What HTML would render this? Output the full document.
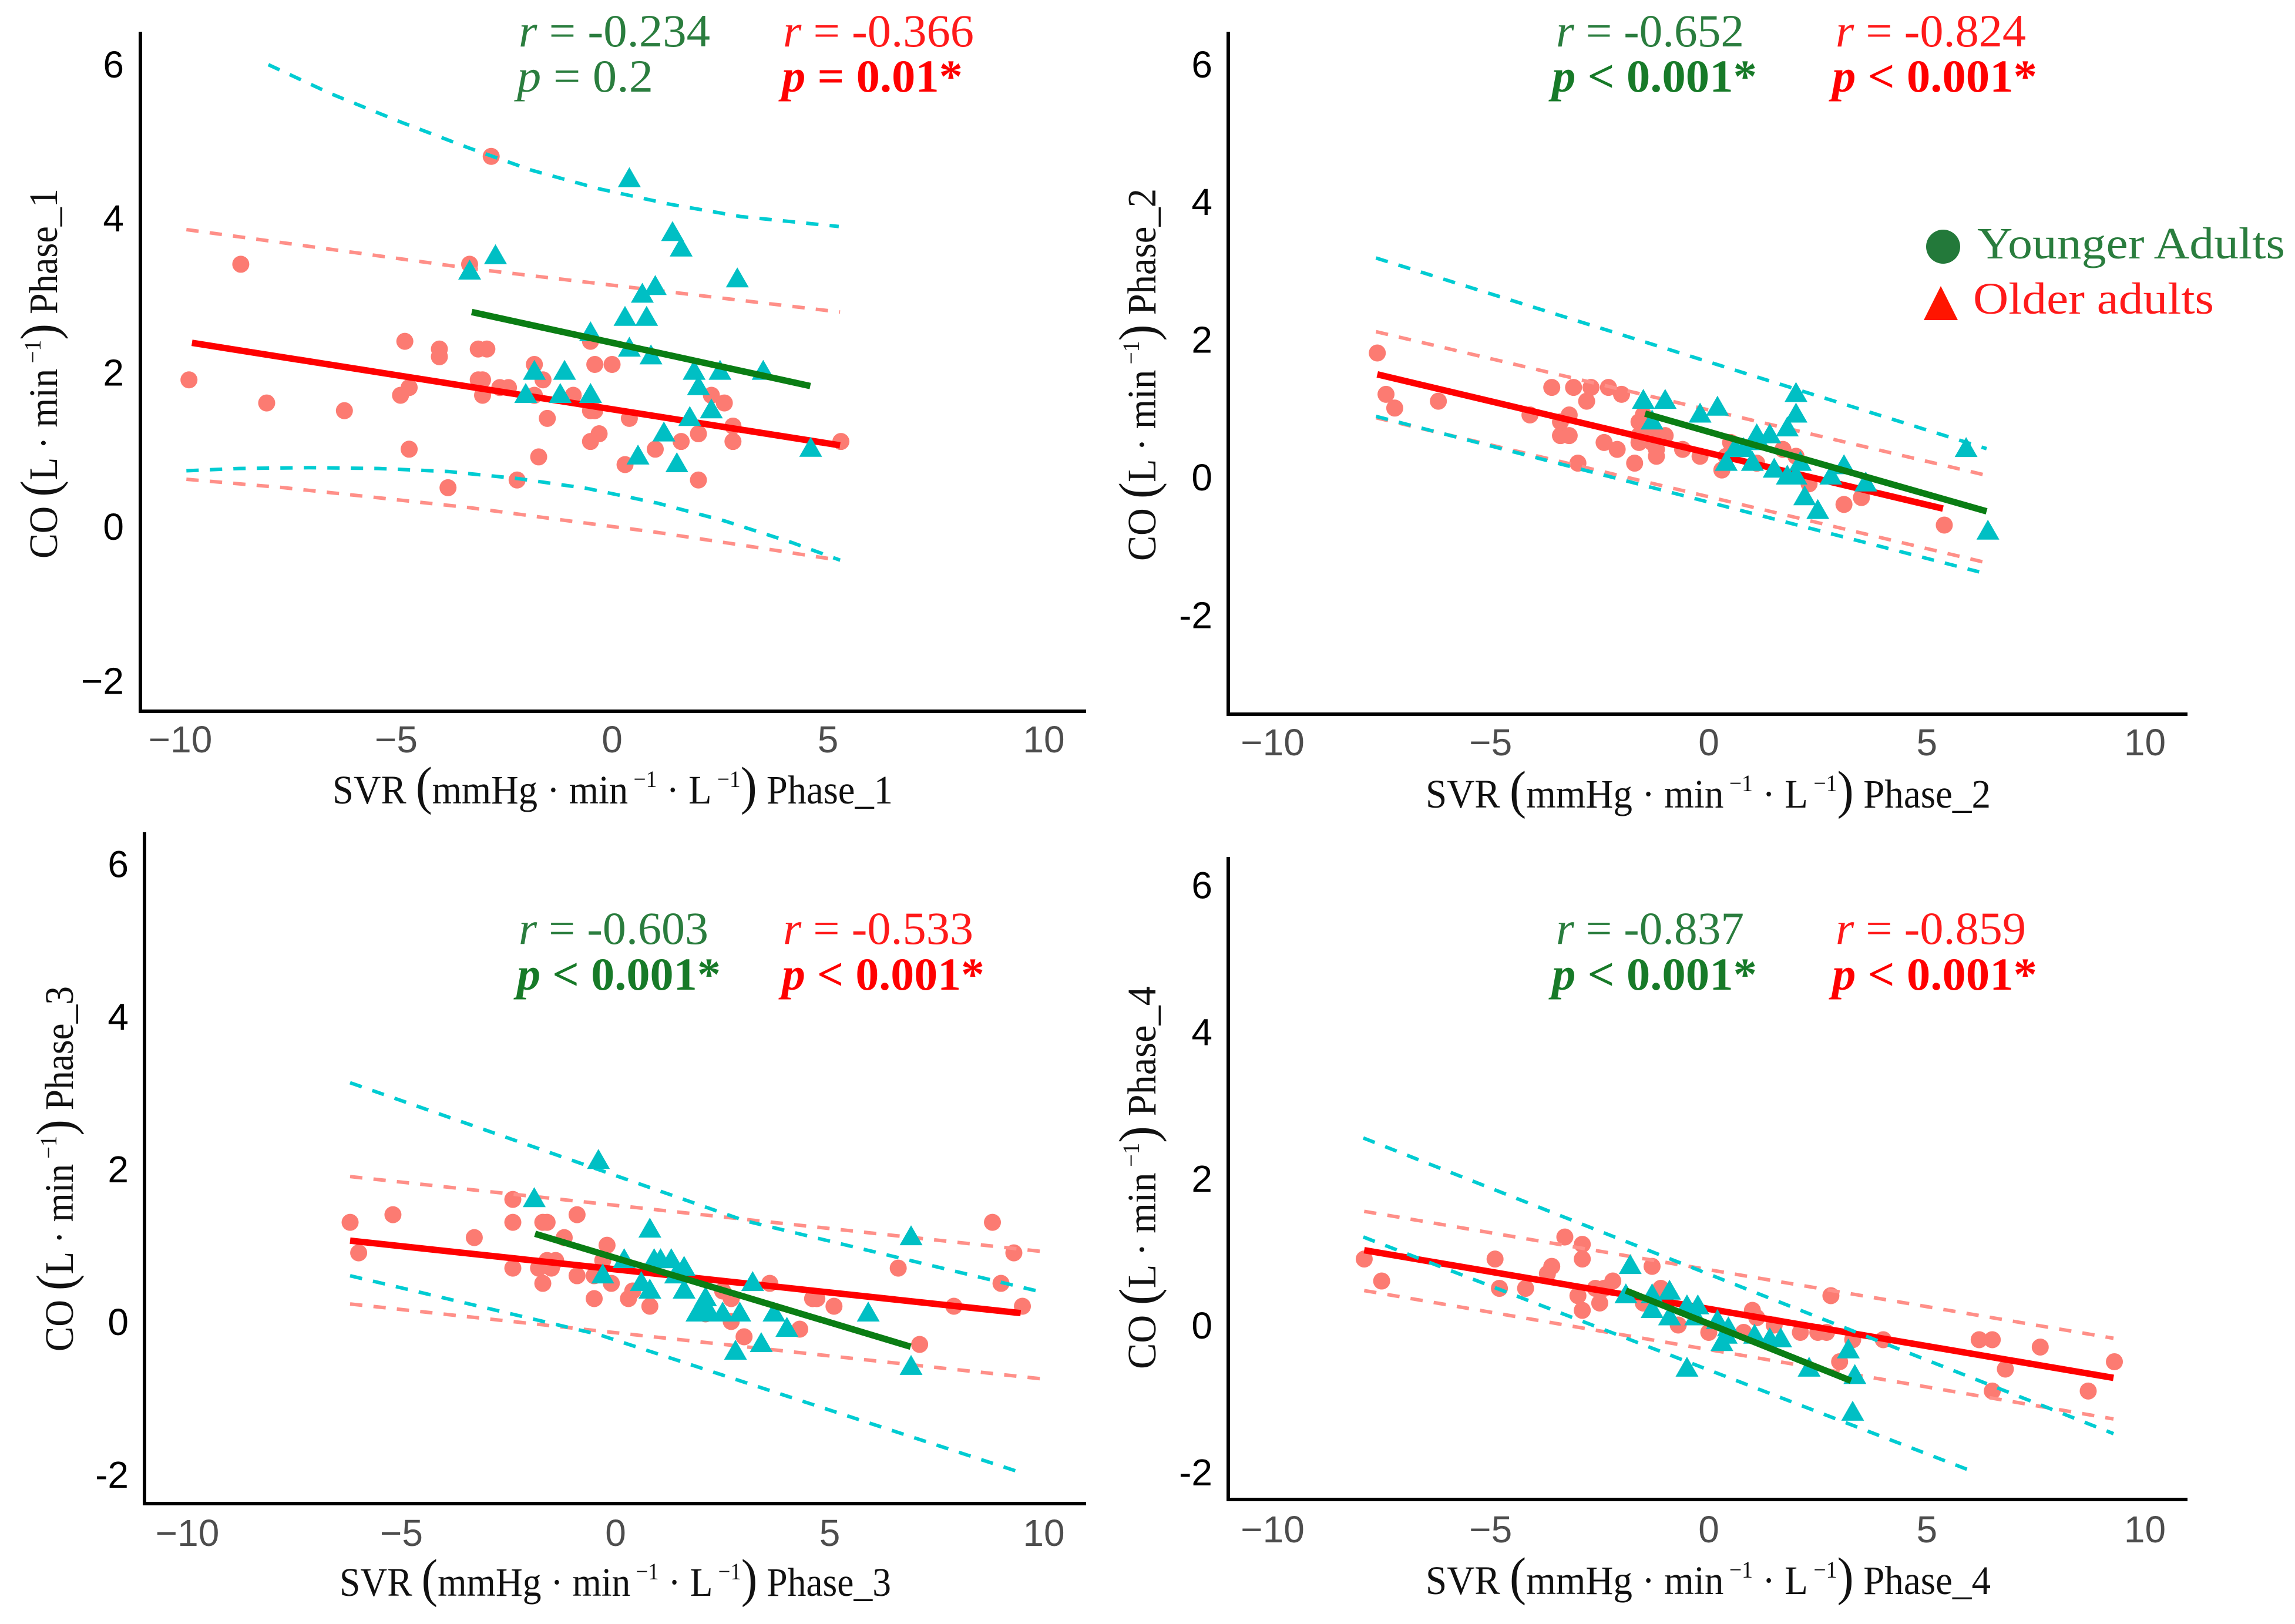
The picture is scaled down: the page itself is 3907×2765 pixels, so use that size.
<!DOCTYPE html>
<html lang="en">
<head>
<meta charset="utf-8">
<title>CO vs SVR by phase</title>
<style>
html,body{margin:0;padding:0;background:#fff}
svg{display:block}
.tick{font-family:"Liberation Sans",sans-serif;font-size:64px}
.title{font-family:"Liberation Serif",serif;font-size:69px;fill:#111}
.ann{font-family:"Liberation Serif",serif;font-size:78px}
.it{font-style:italic}
.g{fill:#2a7d3e}.gb{fill:#177a28;font-weight:bold}
.r{fill:#ff1a1a}.rb{fill:#ff0000;font-weight:bold}
.leg{font-family:"Liberation Serif",serif;font-size:76px}
</style>
</head>
<body>
<svg id="chart" xmlns="http://www.w3.org/2000/svg" width="3907" height="2765" viewBox="0 0 3907 2765">
<rect width="3907" height="2765" fill="#fff"/>
<g id="marks"></g>

<!-- Panel 1 text -->
<text class="title" x="566" y="1368" textLength="954" lengthAdjust="spacingAndGlyphs">SVR <tspan font-size="90">(</tspan>mmHg · min<tspan font-size="40" dy="-28"> −1</tspan><tspan dy="28"> · L</tspan><tspan font-size="40" dy="-28"> −1</tspan><tspan dy="28" font-size="90">)</tspan> Phase_1</text>
<text class="title" transform="translate(97 951) rotate(-90)" textLength="630" lengthAdjust="spacingAndGlyphs">CO <tspan font-size="90">(</tspan>L · min<tspan font-size="40" dy="-28"> −1</tspan><tspan dy="28" font-size="90">)</tspan> Phase_1</text>
<text class="ann g" x="883" y="79" textLength="326" lengthAdjust="spacingAndGlyphs"><tspan class="it">r</tspan> = -0.234</text>
<text class="ann g" x="880" y="156" textLength="232" lengthAdjust="spacingAndGlyphs"><tspan class="it">p</tspan> = 0.2</text>
<text class="ann r" x="1333" y="79" textLength="325" lengthAdjust="spacingAndGlyphs"><tspan class="it">r</tspan> = -0.366</text>
<text class="ann rb" x="1331" y="156" textLength="308" lengthAdjust="spacingAndGlyphs"><tspan class="it">p</tspan> = 0.01*</text>

<!-- Panel 2 text -->
<text class="title" x="2427" y="1375" textLength="962" lengthAdjust="spacingAndGlyphs">SVR <tspan font-size="90">(</tspan>mmHg · min<tspan font-size="40" dy="-28"> −1</tspan><tspan dy="28"> · L</tspan><tspan font-size="40" dy="-28"> −1</tspan><tspan dy="28" font-size="90">)</tspan> Phase_2</text>
<text class="title" transform="translate(1967 955) rotate(-90)" textLength="634" lengthAdjust="spacingAndGlyphs">CO <tspan font-size="90">(</tspan>L · min<tspan font-size="40" dy="-28"> −1</tspan><tspan dy="28" font-size="90">)</tspan> Phase_2</text>
<text class="ann g" x="2649" y="79" textLength="320" lengthAdjust="spacingAndGlyphs"><tspan class="it">r</tspan> = -0.652</text>
<text class="ann gb" x="2642" y="156" textLength="349" lengthAdjust="spacingAndGlyphs"><tspan class="it">p</tspan> &lt; 0.001*</text>
<text class="ann r" x="3125" y="79" textLength="324" lengthAdjust="spacingAndGlyphs"><tspan class="it">r</tspan> = -0.824</text>
<text class="ann rb" x="3119" y="156" textLength="349" lengthAdjust="spacingAndGlyphs"><tspan class="it">p</tspan> &lt; 0.001*</text>

<!-- Legend -->
<g>
<circle cx="3308" cy="420" r="29" fill="#23793a"/>
<text class="leg" x="3366" y="440" fill="#2a7d3e" textLength="524" lengthAdjust="spacingAndGlyphs">Younger Adults</text>
<polygon points="3304,487 3333,545 3275,545" fill="#ff1500"/>
<text class="leg" x="3359" y="534" fill="#ff1a1a" textLength="410" lengthAdjust="spacingAndGlyphs">Older adults</text>
</g>

<!-- Panel 3 text -->
<text class="title" x="578" y="2717" textLength="939" lengthAdjust="spacingAndGlyphs">SVR <tspan font-size="90">(</tspan>mmHg · min<tspan font-size="40" dy="-28"> −1</tspan><tspan dy="28"> · L</tspan><tspan font-size="40" dy="-28"> −1</tspan><tspan dy="28" font-size="90">)</tspan> Phase_3</text>
<text class="title" transform="translate(124 2301) rotate(-90)" textLength="622" lengthAdjust="spacingAndGlyphs">CO <tspan font-size="90">(</tspan>L · min<tspan font-size="40" dy="-28"> −1</tspan><tspan dy="28" font-size="90">)</tspan> Phase_3</text>
<text class="ann g" x="883" y="1607" textLength="323" lengthAdjust="spacingAndGlyphs"><tspan class="it">r</tspan> = -0.603</text>
<text class="ann gb" x="880" y="1685" textLength="347" lengthAdjust="spacingAndGlyphs"><tspan class="it">p</tspan> &lt; 0.001*</text>
<text class="ann r" x="1333" y="1607" textLength="324" lengthAdjust="spacingAndGlyphs"><tspan class="it">r</tspan> = -0.533</text>
<text class="ann rb" x="1331" y="1685" textLength="345" lengthAdjust="spacingAndGlyphs"><tspan class="it">p</tspan> &lt; 0.001*</text>

<!-- Panel 4 text -->
<text class="title" x="2427" y="2714" textLength="962" lengthAdjust="spacingAndGlyphs">SVR <tspan font-size="90">(</tspan>mmHg · min<tspan font-size="40" dy="-28"> −1</tspan><tspan dy="28"> · L</tspan><tspan font-size="40" dy="-28"> −1</tspan><tspan dy="28" font-size="90">)</tspan> Phase_4</text>
<text class="title" transform="translate(1967 2331) rotate(-90)" textLength="652" lengthAdjust="spacingAndGlyphs">CO <tspan font-size="90">(</tspan>L · min<tspan font-size="40" dy="-28"> −1</tspan><tspan dy="28" font-size="90">)</tspan> Phase_4</text>
<text class="ann g" x="2649" y="1607" textLength="320" lengthAdjust="spacingAndGlyphs"><tspan class="it">r</tspan> = -0.837</text>
<text class="ann gb" x="2642" y="1685" textLength="349" lengthAdjust="spacingAndGlyphs"><tspan class="it">p</tspan> &lt; 0.001*</text>
<text class="ann r" x="3125" y="1607" textLength="324" lengthAdjust="spacingAndGlyphs"><tspan class="it">r</tspan> = -0.859</text>
<text class="ann rb" x="3119" y="1685" textLength="349" lengthAdjust="spacingAndGlyphs"><tspan class="it">p</tspan> &lt; 0.001*</text>
</svg>

<script>
// Tick labels
const xTicks = [-10, -5, 0, 5, 10];
const xTickLabels = ['−10', '−5', '0', '5', '10'];
const yTicks = [6, 4, 2, 0, -2];
const yTickLabelsMinus = ['6', '4', '2', '0', '−2'];
const yTickLabelsHyphen = ['6', '4', '2', '0', '-2'];

// Phase 1 data
const p1Circles = [[-9.8,1.9],[-8.6,3.4],[-8,1.6],[-6.2,1.5],[-4.8,2.4],[-4.9,1.7],[-4.7,1.8],[-4.7,1],[-4,2.3],[-4,2.2],[-3.8,.5],[-3.3,3.4],[-3.1,2.3],[-2.9,2.3],[-2.8,4.8],[-3.1,1.9],[-3,1.9],[-3,1.7],[-2.6,1.8],[-2.4,1.8],[-2.2,.6],[-1.8,2.1],[-1.8,1.7],[-1.7,.9],[-1.6,1.9],[-1.5,1.4],[-.9,1.7],[-.5,2.4],[-.4,2.1],[0,2.1],[-.5,1.5],[-.4,1.5],[-.3,1.2],[-.5,1.1],[.3,.8],[.4,1.4],[1,1],[1.6,1.1],[2,1.2],[2,.6],[2.3,1.7],[2.6,1.6],[2.8,1.3],[2.8,1.1],[5.3,1.1]];
const p1Triangles = [[-3.3,3.3],[-2.7,3.5],[.4,4.5],[1.4,3.8],[1.6,3.6],[2.9,3.2],[1,3.1],[.7,3],[.3,2.7],[.8,2.7],[-.5,2.5],[.4,2.3],[.9,2.2],[1.9,2],[2.5,2],[3.5,2],[-1.8,2],[-1.1,2],[-2,1.7],[-1.2,1.7],[-.5,1.7],[2,1.8],[1.8,1.4],[2.3,1.5],[1.2,1.2],[.6,.9],[1.5,.8],[4.6,1]];
const p1RedLine = [[-9.73,2.38],[5.28,1.05]];
const p1GreenLine = [[-3.25,2.78],[4.59,1.82]];
const p1CyanUpper = [[-7.96,5.99],[-6.5,5.61],[-4.87,5.24],[-3.32,4.91],[-1.86,4.62],[-.31,4.38],[1.33,4.18],[2.97,4.02],[5.25,3.89]];
const p1CyanLower = [[-9.86,.72],[-8.64,.75],[-7.02,.76],[-5.41,.75],[-3.8,.71],[-2.19,.62],[-.57,.49],[1.05,.3],[2.6,.07],[4.16,-.21],[5.28,-.44]];
const p1SalmonUpper = [[-9.86,3.85],[-3.2,3.34],[5.28,2.78]];
const p1SalmonLower = [[-9.86,.61],[-7.59,.5],[-5.41,.37],[-3.28,.24],[-1.14,.08],[1.05,-.08],[3.18,-.26],[4.79,-.4],[5.28,-.44]];

// Phase 2 data
const p2Circles = [[-7.6,1.8],[-7.4,1.2],[-7.2,1],[-6.2,1.1],[-4.1,.9],[-3.6,1.3],[-3.1,1.3],[-2.7,1.3],[-2.3,1.3],[-2,1.2],[-2.8,1.1],[-3.2,.9],[-3.4,.8],[-3.4,.6],[-3.2,.6],[-3,.2],[-2.4,.5],[-2.1,.4],[-1.7,.2],[-1.6,.8],[-1.6,.6],[-1.6,.5],[-1.5,.9],[-1.3,.7],[-1.3,.5],[-1.2,.4],[-1.2,.3],[-1,.6],[-.6,.4],[-.2,.3],[.3,.1],[.4,.3],[.5,.5],[1.1,.2],[1.7,.4],[2,.3],[2.3,-.1],[3.1,-.4],[3.5,-.3],[5.4,-.7]];
const p2Triangles = [[-1.5,1.1],[-1,1.1],[-.2,.9],[.2,1],[2,1.2],[2,.9],[1.8,.7],[-1.3,.8],[1.1,.6],[1.4,.6],[1.15,.5],[.6,.4],[.8,.4],[.4,.2],[1,.2],[1.5,.1],[1.8,0],[2,0],[2.1,.2],[3.1,.15],[2.8,0],[3.6,-.1],[2.2,-.3],[2.5,-.5],[5.9,.4],[6.4,-.8]];
const p2RedLine = [[-7.6,1.49],[5.37,-.46]];
const p2GreenLine = [[-1.46,.92],[6.37,-.5]];
const p2CyanUpper = [[-7.63,3.18],[6.37,.41]];
const p2CyanLower = [[-7.63,.88],[6.2,-1.38]];
const p2SalmonUpper = [[-7.63,2.11],[6.32,.03]];
const p2SalmonLower = [[-7.63,.86],[6.32,-1.24]];

// Phase 3 data
const p3Circles = [[-6.2,1.3],[-6,.9],[-5.2,1.4],[-3.3,1.1],[-2.4,1.6],[-2.4,1.3],[-2.4,.7],[-1.7,1.3],[-1.6,1.3],[-1.2,1.1],[-.9,1.4],[-1.8,.7],[-1.6,.8],[-1.4,.8],[-1.5,.7],[-1.7,.5],[-.9,.6],[-.5,.6],[-.3,.8],[-.2,1],[-.1,.5],[-.5,.3],[.3,.3],[.4,.4],[.8,.2],[2.5,.4],[2.7,.3],[2.7,0],[3,-.2],[2.1,.1],[3.6,.5],[4.6,.3],[4.7,.3],[4.3,-.1],[5.1,.2],[6.6,.7],[7.1,-.3],[7.9,.2],[8.8,1.3],[9.3,.9],[9,.5],[9.5,.2]];
const p3Triangles = [[-.4,2.1],[-1.9,1.6],[.8,1.2],[6.9,1.1],[6.9,-.6],[.2,.8],[.9,.8],[1.05,.8],[1.3,.8],[1.6,.7],[-.3,.6],[.6,.5],[.8,.4],[1.4,.6],[1.6,.4],[2.1,.3],[2.1,.2],[1.9,.1],[2.2,.1],[2.5,.1],[2.9,.1],[3.2,.5],[3.7,.1],[4,-.1],[3.4,-.3],[2.8,-.4],[5.9,.1]];
const p3RedLine = [[-6.2,1.06],[9.46,.11]];
const p3GreenLine = [[-1.88,1.15],[6.89,-.33]];
const p3CyanUpper = [[-6.2,3.13],[3.02,1.32],[9.92,.39]];
const p3CyanLower = [[-6.2,.6],[-.4,-.17],[9.41,-1.97]];
const p3SalmonUpper = [[-6.2,1.9],[9.92,.92]];
const p3SalmonLower = [[-6.2,.23],[9.92,-.75]];

// Phase 4 data
const p4Circles = [[-7.9,.9],[-7.5,.6],[-4.9,.9],[-4.8,.5],[-4.2,.5],[-3.7,.7],[-3.6,.8],[-3.3,1.2],[-2.9,1.1],[-2.9,.9],[-3,.4],[-2.9,.2],[-2.6,.5],[-2.5,.3],[-2.4,.5],[-2.2,.6],[-1.3,.8],[-1.1,.5],[-1.5,.3],[-.7,0],[0,-.1],[1,.2],[1.1,.1],[.8,-.1],[1.5,0],[2.1,-.1],[2.5,-.1],[2.7,-.1],[2.8,.4],[3,-.5],[3.3,-.2],[4,-.2],[6.2,-.2],[6.5,-.2],[6.8,-.6],[6.5,-.9],[7.6,-.3],[8.7,-.9],[9.3,-.5]];
const p4Triangles = [[-1.8,.8],[-1.9,.4],[-.9,.45],[-1.3,.4],[-1.3,.2],[-.9,.1],[-.5,.25],[-.25,.25],[-.3,.1],[-.5,-.6],[.2,.05],[.45,-.05],[.3,-.25],[.4,-.15],[1.05,-.15],[1.4,-.2],[1.65,-.2],[2.3,-.6],[3.2,-.35],[3.35,-.7],[3.3,-1.2]];
const p4RedLine = [[-7.9,1.02],[9.28,-.72]];
const p4GreenLine = [[-1.9,.47],[3.26,-.76]];
const p4CyanUpper = [[-7.92,2.55],[9.28,-1.48]];
const p4CyanLower = [[-7.92,1.2],[5.98,-1.98]];
const p4SalmonUpper = [[-7.9,1.55],[9.28,-.18]];
const p4SalmonLower = [[-7.9,.47],[9.28,-1.28]];

const SALMON = '#fc7b72', SALMON_DASH = '#ff8f88', CYAN = '#00bfc4', CYAN_DASH = '#00ccd2', RED = '#ff0000', GREEN = '#0a7d14';
const NS = 'http://www.w3.org/2000/svg';
const root = document.getElementById('marks');

function make(tag, name, attrs, parent) {
  const el = document.createElementNS(NS, tag);
  
  
  for (const k in attrs) el.setAttribute(k, attrs[k]);
  parent.appendChild(el);
  return el;
}

function drawPanel(n, frame, yLabels, circles, triangles, redLine, greenLine, cyanUp, cyanLo, salUp, salLo) {
  const sx = v => frame.x0 + v * frame.xu;
  const sy = v => frame.y0 - v * frame.yu;
  const g = make('g', 'panel-phase-' + n, {}, root);
  const pts = arr => arr.map(p => sx(p[0]).toFixed(1) + ',' + sy(p[1]).toFixed(1)).join(' ');

  // axes
  make('line', 'y-axis-line', {x1: frame.left, x2: frame.left, y1: frame.top, y2: frame.bottom + 3, stroke: '#000', 'stroke-width': 6}, g);
  make('line', 'x-axis-line', {x1: frame.left, x2: frame.right, y1: frame.bottom, y2: frame.bottom, stroke: '#000', 'stroke-width': 6}, g);

  // tick labels
  xTicks.forEach((t, i) => {
    const el = make('text', 'x-tick-label', {class: 'tick', x: sx(t), y: frame.xLabelY, 'text-anchor': 'middle', fill: '#4d4d4d'}, g);
    el.textContent = xTickLabels[i];
  });
  yTicks.forEach((t, i) => {
    const el = make('text', 'y-tick-label', {class: 'tick', x: frame.yLabelX, y: sy(t) + 23, 'text-anchor': 'end', fill: '#000'}, g);
    el.textContent = yLabels[i];
  });

  // circles
  circles.forEach(p => {
    make('circle', 'younger-point', {cx: sx(p[0]), cy: sy(p[1]), r: 14.5, fill: SALMON}, g);
  });

  // red regression
  make('polyline', 'older-fit-line', {points: pts(redLine), fill: 'none', stroke: RED, 'stroke-width': 11}, g);

  // confidence bands
  const dash = {fill: 'none', 'stroke-width': 6, 'stroke-dasharray': '21 19'};
  make('polyline', 'salmon-band-upper', Object.assign({points: pts(salUp), stroke: SALMON_DASH}, dash), g);
  make('polyline', 'salmon-band-lower', Object.assign({points: pts(salLo), stroke: SALMON_DASH}, dash), g);
  make('polyline', 'cyan-band-upper', Object.assign({points: pts(cyanUp), stroke: CYAN_DASH}, dash), g);
  make('polyline', 'cyan-band-lower', Object.assign({points: pts(cyanLo), stroke: CYAN_DASH}, dash), g);

  // triangles
  triangles.forEach(p => {
    const x = sx(p[0]), y = sy(p[1]);
    const d = (x).toFixed(1) + ',' + (y - 21).toFixed(1) + ' ' + (x + 19.5).toFixed(1) + ',' + (y + 13).toFixed(1) + ' ' + (x - 19.5).toFixed(1) + ',' + (y + 13).toFixed(1);
    make('polygon', 'older-point', {points: d, fill: CYAN}, g);
  });

  // green regression
  make('polyline', 'younger-fit-line', {points: pts(greenLine), fill: 'none', stroke: GREEN, 'stroke-width': 11}, g);
}

drawPanel(1, {left: 239, right: 1849, top: 54, bottom: 1211, x0: 1042, xu: 73.5, y0: 896, yu: 131.2, xLabelY: 1281, yLabelX: 211},
  yTickLabelsMinus, p1Circles, p1Triangles, p1RedLine, p1GreenLine, p1CyanUpper, p1CyanLower, p1SalmonUpper, p1SalmonLower);
drawPanel(2, {left: 2091, right: 3724, top: 54, bottom: 1216, x0: 2909, xu: 74.25, y0: 812, yu: 117.2, xLabelY: 1286, yLabelX: 2064},
  yTickLabelsHyphen, p2Circles, p2Triangles, p2RedLine, p2GreenLine, p2CyanUpper, p2CyanLower, p2SalmonUpper, p2SalmonLower);
drawPanel(3, {left: 246, right: 1849, top: 1417, bottom: 2560, x0: 1048, xu: 72.9, y0: 2250, yu: 129.9, xLabelY: 2632, yLabelX: 219},
  yTickLabelsHyphen, p3Circles, p3Triangles, p3RedLine, p3GreenLine, p3CyanUpper, p3CyanLower, p3SalmonUpper, p3SalmonLower);
drawPanel(4, {left: 2091, right: 3724, top: 1459, bottom: 2553, x0: 2909, xu: 74.25, y0: 2256, yu: 124.9, xLabelY: 2626, yLabelX: 2064},
  yTickLabelsHyphen, p4Circles, p4Triangles, p4RedLine, p4GreenLine, p4CyanUpper, p4CyanLower, p4SalmonUpper, p4SalmonLower);
</script>
</body>
</html>
